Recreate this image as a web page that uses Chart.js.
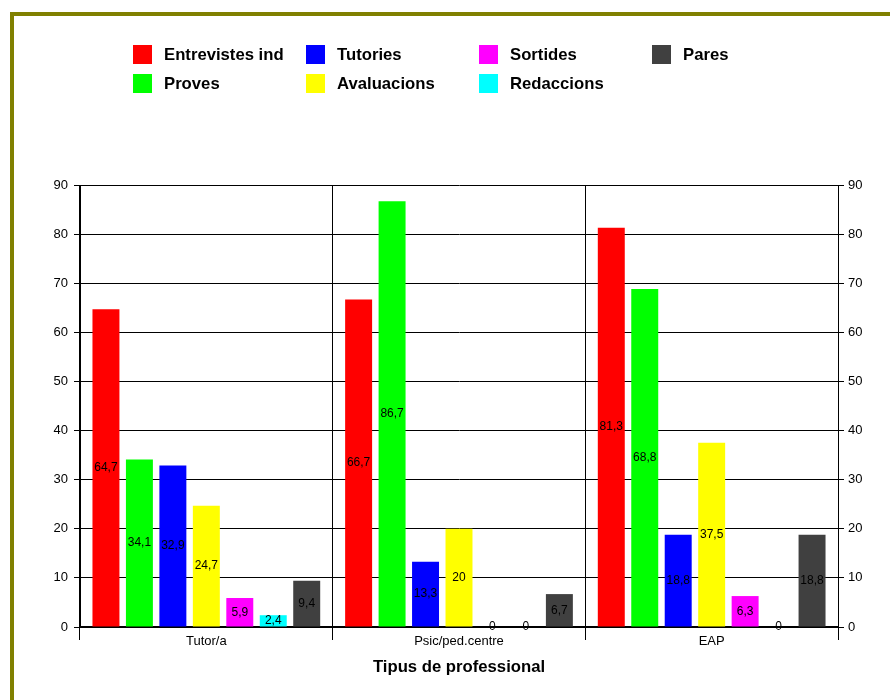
<!DOCTYPE html>
<html>
<head>
<meta charset="utf-8">
<script src="https://cdn.jsdelivr.net/npm/chart.js@4.4.1/dist/chart.umd.min.js"></script>
<style>
  html, body { margin: 0; padding: 0; background: #fff; }
  #wrap { width: 890px; height: 700px; position: relative; }
</style>
</head>
<body>
<div id="wrap"><canvas id="c" width="890" height="700"></canvas></div>
<script>
// Professional types (categories)
const categories = ['Tutor/a', 'Psic/ped.centre', 'EAP'];

// Percentage per activity and professional type
const entrevistes = [64.7, 66.7, 81.3];
const proves      = [34.1, 86.7, 68.8];
const tutories    = [32.9, 13.3, 18.8];
const avaluacions = [24.7, 20, 37.5];
const sortides    = [5.9, 0, 6.3];
const redaccions  = [2.4, 0, 0];
const pares       = [9.4, 6.7, 18.8];

const seriesNames = ['Entrevistes ind', 'Proves', 'Tutories', 'Avaluacions', 'Sortides', 'Redaccions', 'Pares'];
const seriesValues = [entrevistes, proves, tutories, avaluacions, sortides, redaccions, pares];
const seriesColors = ['#FF0000', '#00FF00', '#0000FF', '#FFFF00', '#FF00FF', '#00FFFF', '#404040'];

const xAxisTitle = 'Tipus de professional';
const yTicks = [0, 10, 20, 30, 40, 50, 60, 70, 80, 90];

const FONT = '"Liberation Sans", Arial, sans-serif';

const datasets = seriesNames.map((name, i) => ({
  label: name,
  data: seriesValues[i],
  backgroundColor: seriesColors[i],
  borderWidth: 0,
  categoryPercentage: 0.927,
  barPercentage: 0.806,
  yAxisID: 'y'
}));

// Olive frame around the whole figure
const framePlugin = {
  id: 'frame',
  beforeDraw(chart) {
    const ctx = chart.ctx;
    ctx.save();
    ctx.fillStyle = '#fff';
    ctx.fillRect(0, 0, chart.width, chart.height);
    ctx.strokeStyle = '#808000';
    ctx.lineWidth = 4;
    ctx.strokeRect(12, 14, 1000, 1000);
    ctx.restore();
  }
};

// Two-row legend filled column by column
const legendPlugin = {
  id: 'gridLegend',
  afterDraw(chart) {
    const ctx = chart.ctx;
    const colX = [133, 306, 479, 652];
    const rowY = [54, 83];
    ctx.save();
    ctx.font = 'bold 16.7px ' + FONT;
    ctx.textBaseline = 'middle';
    ctx.textAlign = 'left';
    chart.data.datasets.forEach((ds, i) => {
      const col = Math.floor(i / 2), row = i % 2;
      const x = colX[col], y = rowY[row];
      ctx.fillStyle = ds.backgroundColor;
      ctx.fillRect(x, y - 9, 19, 19);
      ctx.fillStyle = '#000';
      ctx.fillText(ds.label, x + 31, y + 1);
    });
    ctx.restore();
  }
};

// Value labels centred in each bar
const valueLabelPlugin = {
  id: 'valueLabels',
  afterDatasetsDraw(chart) {
    const ctx = chart.ctx;
    ctx.save();
    ctx.font = '12px ' + FONT;
    ctx.fillStyle = '#000';
    ctx.textAlign = 'center';
    ctx.textBaseline = 'middle';
    chart.data.datasets.forEach((ds, di) => {
      const meta = chart.getDatasetMeta(di);
      meta.data.forEach((bar, j) => {
        const v = ds.data[j];
        const y = (bar.y + bar.base) / 2;
        ctx.fillText(String(v).replace('.', ','), bar.x, y);
      });
    });
    ctx.restore();
  }
};

new Chart(document.getElementById('c'), {
  type: 'bar',
  data: { labels: categories, datasets },
  options: {
    responsive: false,
    animation: false,
    devicePixelRatio: 1,
    layout: { padding: { top: 185, left: 0, right: 0, bottom: 0 } },
    plugins: { legend: { display: false }, tooltip: { enabled: false } },
    scales: {
      x: {
        offset: true,
        grid: {
          offset: true,
          color: '#000',
          lineWidth: 1,
          tickLength: 13,
          drawOnChartArea: true
        },
        border: { color: '#000', width: 2 },
        ticks: { color: '#000', font: { family: FONT, size: 13 }, padding: -6, maxRotation: 0 },
        title: {
          display: true,
          text: xAxisTitle,
          color: '#000',
          font: { family: FONT, size: 16.7, weight: 'bold' },
          padding: { top: 0, bottom: 23 }
        },
        afterFit(scale) { scale.height = 73; }
      },
      y: {
        position: 'left',
        min: 0, max: 90,
        afterBuildTicks(scale) { scale.ticks = yTicks.map(v => ({ value: v })); },
        grid: { color: '#000', lineWidth: 1, tickLength: 6 },
        border: { color: '#000', width: 1 },
        ticks: { color: '#000', font: { family: FONT, size: 13 }, padding: 6 },
        afterFit(scale) { scale.width = 80; }
      },
      y2: {
        position: 'right',
        min: 0, max: 90,
        afterBuildTicks(scale) { scale.ticks = yTicks.map(v => ({ value: v })); },
        grid: { drawOnChartArea: false, color: '#000', tickLength: 6 },
        border: { color: '#000', width: 1 },
        ticks: { color: '#000', font: { family: FONT, size: 13 }, padding: 4 },
        afterFit(scale) { scale.width = 52; }
      }
    }
  },
  plugins: [framePlugin, legendPlugin, valueLabelPlugin]
});
</script>
</body>
</html>
